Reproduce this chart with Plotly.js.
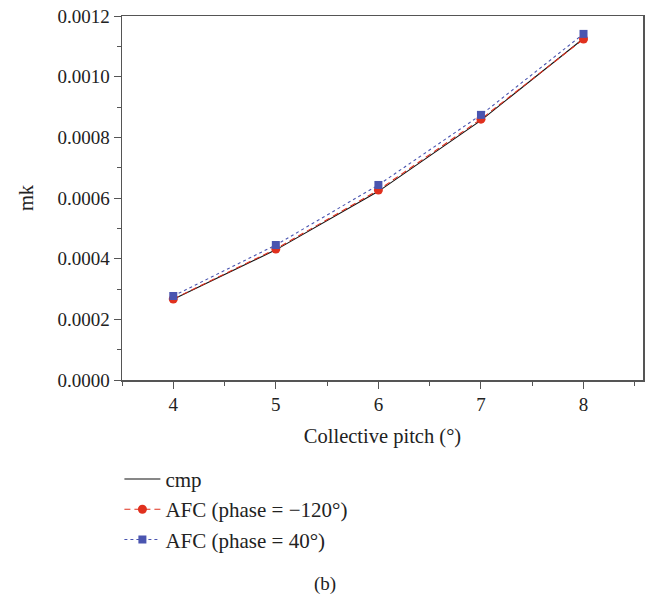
<!DOCTYPE html>
<html>
<head>
<meta charset="utf-8">
<script src="https://cdn.plot.ly/plotly-3.0.1.min.js"></script>
<style>html,body{margin:0;padding:0;background:#fff;}#chart{width:653px;height:599px;}</style>
</head>
<body>
<div id="chart"></div>
<script>
const pitch = [4, 5, 6, 7, 8];
const cmp = [0.000266, 0.000429, 0.000622, 0.000856, 0.001126];
const afcMinus120 = [0.000267, 0.000432, 0.000626, 0.000860, 0.001124];
const afc40 = [0.000277, 0.000445, 0.000643, 0.000874, 0.001141];
const seriesNames = ['cmp', 'AFC (phase = \u2212120\u00b0)', 'AFC (phase = 40\u00b0)'];
const yTicks = [0, 0.0002, 0.0004, 0.0006, 0.0008, 0.0010, 0.0012];
const yTickText = ['0.0000', '0.0002', '0.0004', '0.0006', '0.0008', '0.0010', '0.0012'];
const xTicks = [4, 5, 6, 7, 8];

const font = 'Liberation Serif, DejaVu Serif, serif';
const axisColor = '#555';
const textColor = '#222';

const traces = [
  {x: pitch, y: cmp, name: seriesNames[0], mode: 'lines',
   line: {color: '#111', width: 1.1}},
  {x: pitch, y: afcMinus120, name: seriesNames[1], mode: 'lines+markers',
   line: {color: '#e0301e', width: 1.1, dash: '6px,4px'},
   marker: {symbol: 'circle', size: 9, color: '#e0301e'}},
  {x: pitch, y: afc40, name: seriesNames[2], mode: 'lines+markers',
   line: {color: '#4a55b0', width: 1.1, dash: 'dot'},
   marker: {symbol: 'square', size: 8, color: '#4a55b0'}}
];

const layout = {
  width: 653, height: 599,
  margin: {l: 122, r: 10, t: 16, b: 219},
  paper_bgcolor: '#fff', plot_bgcolor: '#fff',
  font: {family: font, size: 19, color: textColor},
  showlegend: true,
  legend: {x: -0.005, y: -0.2165, xanchor: 'left', yanchor: 'top', itemwidth: 36,
           font: {family: font, size: 21, color: textColor},
           bgcolor: 'rgba(0,0,0,0)', tracegroupgap: 0},
  xaxis: {range: [3.5, 8.58], tickvals: xTicks, ticks: 'outside', ticklen: 7,
          tickcolor: axisColor, showline: true, linecolor: axisColor, linewidth: 1.5,
          mirror: true, showgrid: false, zeroline: false,
          minor: {dtick: 0.5, tick0: 3.5, ticks: 'outside', ticklen: 4, tickcolor: axisColor, showgrid: false},
          tickfont: {family: font, size: 19, color: textColor},
          title: {text: 'Collective pitch (\u00b0)', font: {family: font, size: 20.5, color: textColor}, standoff: 14}},
  yaxis: {range: [0, 0.0012], tickvals: yTicks, ticktext: yTickText, ticks: 'outside', ticklen: 7,
          tickcolor: axisColor, showline: true, linecolor: axisColor, linewidth: 1.5,
          mirror: true, showgrid: false, zeroline: false,
          minor: {dtick: 0.0001, tick0: 0, ticks: 'outside', ticklen: 4, tickcolor: axisColor, showgrid: false},
          tickfont: {family: font, size: 19, color: textColor},
          title: {text: 'mk', font: {family: font, size: 20.5, color: textColor}, standoff: 18}},
  annotations: [
    {text: '(b)', xref: 'paper', yref: 'paper', x: 0.39, y: -0.56, showarrow: false,
     xanchor: 'center', yanchor: 'middle', font: {family: font, size: 19, color: textColor}}
  ]
};

Plotly.newPlot('chart', traces, layout, {displayModeBar: false, staticPlot: true});
</script>
</body>
</html>
